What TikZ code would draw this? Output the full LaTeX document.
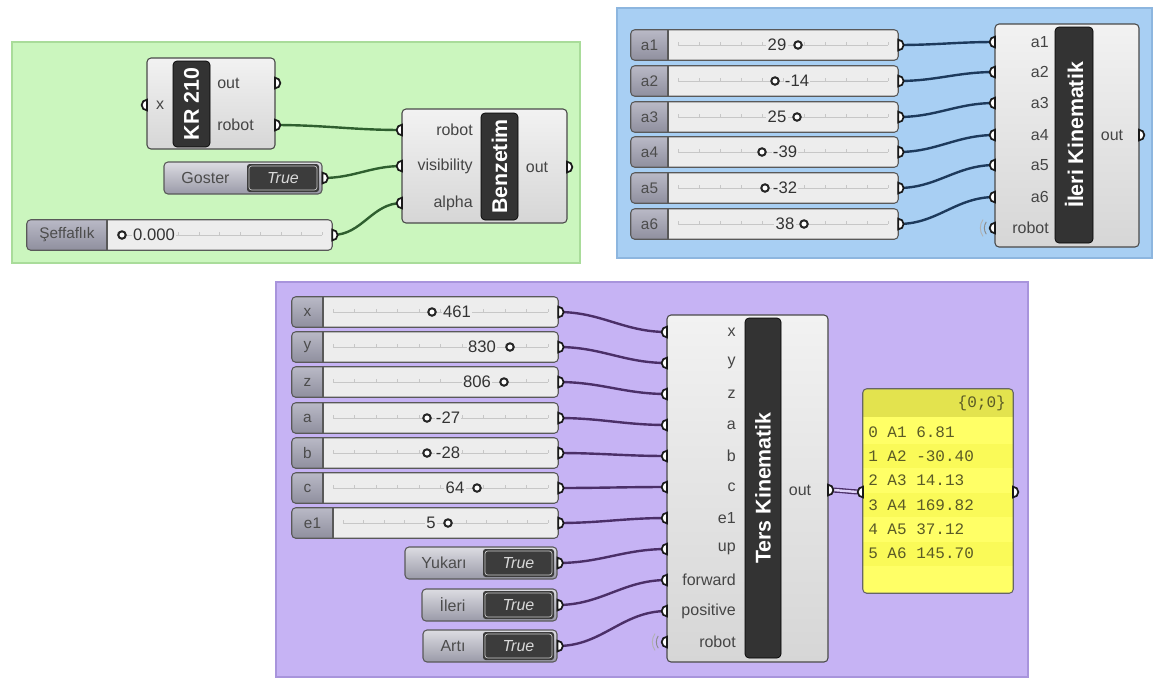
\documentclass[tikz,border=0pt]{standalone}
\usepackage{fontspec}
\setmainfont{Liberation Sans}
\setmonofont{Liberation Mono}
\usetikzlibrary{fit}
\definecolor{grpG}{HTML}{CBF6BE}
\definecolor{grpGl}{HTML}{A9DC9A}
\definecolor{grpB}{HTML}{A8CFF3}
\definecolor{grpBl}{HTML}{8DB6DF}
\definecolor{grpP}{HTML}{C6B3F4}
\definecolor{grpPl}{HTML}{A894DC}
\definecolor{compA}{HTML}{F2F2F2}
\definecolor{compB}{HTML}{D6D6D6}
\definecolor{compline}{HTML}{4A4A4A}
\definecolor{barcol}{HTML}{333333}
\definecolor{labcol}{HTML}{454545}
\definecolor{slbodyc}{HTML}{EDEDED}
\definecolor{slA}{HTML}{B9B9C6}
\definecolor{slB}{HTML}{8F8F9E}
\definecolor{tgA}{HTML}{DCDCE2}
\definecolor{tgB}{HTML}{9A9AA8}
\definecolor{tgdark}{HTML}{3C3C3C}
\definecolor{wireG}{HTML}{2F5F2F}
\definecolor{wireB}{HTML}{1D3A5C}
\definecolor{wireP}{HTML}{4B2F68}
\definecolor{panelY}{HTML}{FFFF66}
\definecolor{panelY2}{HTML}{FAFA58}
\definecolor{panelH}{HTML}{E3E34E}
\definecolor{paneltxt}{HTML}{5A5A26}
\pgfdeclarelayer{bg}
\pgfdeclarelayer{wire}
\pgfsetlayers{bg,wire,main}
\newcommand\ghOut[1]{\draw[grip] (#1) ++(0,-5.3) arc[start angle=90,end angle=-90,radius=4pt] -- cycle;}
\newcommand\ghIn[1]{\draw[grip] (#1) ++(0,-5.3) arc[start angle=90,end angle=270,radius=4pt] -- cycle;}
\newcommand\ghWireless[1]{%
  \draw[black!45, line width=0.7pt] (#1) ++(145:8pt) arc[start angle=145,end angle=215,radius=8pt];
  \draw[black!30, line width=0.7pt] (#1) ++(145:11pt) arc[start angle=145,end angle=215,radius=11pt];}
% name, xl, xr, yc, lx, label, valx, knobx, value
\newcommand\ghSlider[9]{%
  \pgfmathsetmacro\ghT{#4-15}\pgfmathsetmacro\ghB{#4+15}%
  \node[slbody, fit={(#2,\ghT)(#3,\ghB)}] (#1) {};
  \begin{scope}
    \clip[rounded corners=3pt] (#1.south west) rectangle (#1.north east);
    \fill[top color=slA, bottom color=slB] (#1.south west) rectangle (#5,\ghT);
  \end{scope}
  \draw[slline] (#5,\ghT) -- (#5,\ghB);
  \draw[slline, rounded corners=3pt] (#1.south west) rectangle (#1.north east);
  \node[sltext] at ({(#2+#5)/2},#4) {#6};
  \draw[track] ({#5+10},#4) -- ({#3-10},#4);
  \foreach \t in {0,...,10} \draw[track] ({#5+10+\t*(#3-#5-20)/10},{#4-3}) -- ++(0,3);
  \node[valtext] at (#7,#4) {#9};
  \draw[knob] (#8,#4) circle[radius=2.8pt];
  \coordinate (#1-o) at (#1.east);
  \ghOut{#1-o}
}
% name, xl, xm, xr, yc, label
\newcommand\ghToggle[6]{%
  \pgfmathsetmacro\ghT{#5-16}\pgfmathsetmacro\ghB{#5+16}%
  \node[tgbody, fit={(#2,\ghT)(#4,\ghB)}] (#1) {};
  \fill[tgdark, rounded corners=2pt] (#3,{#5-14}) rectangle ({#4-3},{#5+14});
  \draw[black!20, line width=0.5pt, rounded corners=2pt] ({#3+2},{#5-12}) rectangle ({#4-5},{#5+12});
  \node[tgtext] at ({(#2+#3)/2},#5) {#6};
  \node[truetext] at ({(#3+#4-3)/2},#5) {True};
  \coordinate (#1-o) at (#1.east);
  \ghOut{#1-o}
}
\begin{document}
\begin{tikzpicture}[x=0.75pt,y=-0.75pt,
  group/.style={inner sep=0pt, line width=0.8pt},
  comp/.style={inner sep=0pt, rounded corners=3pt, draw=compline, line width=0.8pt, top color=compA, bottom color=compB},
  bar/.style={inner sep=0pt, rounded corners=3pt, fill=barcol, draw=black, line width=0.5pt},
  bartitle/.style={text=white, font=\fontsize{16}{16}\selectfont\bfseries, inner sep=0pt},
  plabel/.style={text=labcol, font=\fontsize{12}{12}\selectfont, inner sep=0pt},
  grip/.style={draw=black!90, fill=white, line width=1.3pt},
  slbody/.style={inner sep=0pt, rounded corners=3pt, fill=slbodyc},
  slline/.style={draw=black!65, line width=0.8pt},
  sltext/.style={text=black!70, font=\fontsize{11.5}{12}\selectfont, inner sep=0pt},
  track/.style={draw=black!22, line width=0.5pt},
  valtext/.style={text=black!80, font=\fontsize{12.5}{13}\selectfont, fill=slbodyc, inner sep=1pt},
  knob/.style={draw=black!85, fill=white, line width=1.5pt},
  tgbody/.style={inner sep=0pt, rounded corners=3pt, draw=black!65, line width=0.8pt, top color=tgA, bottom color=tgB},
  tgtext/.style={text=black!70, font=\fontsize{12}{12}\selectfont, inner sep=0pt},
  truetext/.style={text=white!85!black, font=\fontsize{12}{12}\selectfont\itshape, inner sep=0pt},
  gwire/.style={draw=wireG, line width=1.8pt},
  bwire/.style={draw=wireB, line width=1.8pt},
  pwire/.style={draw=wireP, line width=1.8pt},
  ptxt/.style={text=paneltxt, font=\ttfamily\fontsize{12}{12}\selectfont, inner sep=0pt, anchor=west}
]
\useasboundingbox (0,0) rectangle (1156,679);

% ---------- groups
\begin{pgfonlayer}{bg}
\fill[white] (0,0) rectangle (1156,679);
\node[group, fill=grpG, draw=grpGl, fit={(12,42)(580,263)}] (gG) {};
\node[group, fill=grpB, draw=grpBl, fit={(617,8)(1152,258)}] (gB) {};
\node[group, fill=grpP, draw=grpPl, fit={(276,282)(1028,677)}] (gP) {};
\end{pgfonlayer}

% ---------- green group
\node[comp, fit={(147,58)(275,149)}] (kr) {};
\node[bar, fit={(173,61)(210,147)}] (krbar) {};
\node[bartitle, rotate=90] at (krbar.center) {KR 210};
\node[plabel] at (160,105) {x};
\node[plabel, anchor=west] at (217,83) {out};
\node[plabel, anchor=west] at (217,125) {robot};
\coordinate (kr-x) at (147,105);
\coordinate (kr-out) at (275,83);
\coordinate (kr-robot) at (275,125);
\ghIn{kr-x}\ghOut{kr-out}\ghOut{kr-robot}

\ghToggle{gs}{164}{247}{322}{178}{Goster}
\ghSlider{sf}{27}{332}{235}{107}{Şeffaflık}{154}{122}{0.000}

\node[comp, fit={(402,109)(567,223)}] (bz) {};
\node[bar, fit={(481,113)(518,220)}] (bzbar) {};
\node[bartitle, rotate=90] at (bzbar.center) {Benzetim};
\node[plabel, anchor=east] at (473,130) {robot};
\node[plabel, anchor=east] at (473,166) {visibility};
\node[plabel, anchor=east] at (473,203) {alpha};
\node[plabel] at (537,167) {out};
\coordinate (bz-robot) at (402,130);
\coordinate (bz-vis) at (402,166);
\coordinate (bz-alpha) at (402,203);
\coordinate (bz-out) at (567,167);
\ghIn{bz-robot}\ghIn{bz-vis}\ghIn{bz-alpha}\ghOut{bz-out}

% ---------- blue group
\ghSlider{sa1}{631}{898}{45}{668}{a1}{777}{798}{29}
\ghSlider{sa2}{631}{898}{81}{668}{a2}{797}{775}{-14}
\ghSlider{sa3}{631}{898}{117}{668}{a3}{777}{797}{25}
\ghSlider{sa4}{631}{898}{152}{668}{a4}{785}{762}{-39}
\ghSlider{sa5}{631}{898}{188}{668}{a5}{785}{765}{-32}
\ghSlider{sa6}{631}{898}{224}{668}{a6}{785}{804}{38}

\node[comp, fit={(995,24)(1139,247)}] (ik) {};
\node[bar, fit={(1055,27)(1093,243)}] (ikbar) {};
\node[bartitle, rotate=90] at (ikbar.center) {İleri Kinematik};
\foreach \n/\yy in {a1/42,a2/72,a3/103,a4/135,a5/165,a6/197,robot/228}{
  \coordinate (ik-\n) at (995,\yy);
  \node[plabel, anchor=east] at (1049,\yy) {\n};
}
\ghWireless{ik-robot}
\foreach \n in {a1,a2,a3,a4,a5,a6,robot}{\ghIn{ik-\n}}
\node[plabel] at (1112,135) {out};
\coordinate (ik-out) at (1139,135);
\ghOut{ik-out}

% ---------- purple group
\ghSlider{px}{292}{558}{312}{323}{x}{457}{432}{461}
\ghSlider{py}{292}{558}{347}{323}{y}{482}{510}{830}
\ghSlider{pz}{292}{558}{382}{323}{z}{477}{504}{806}
\ghSlider{pa}{292}{558}{418}{323}{a}{448}{427}{-27}
\ghSlider{pb}{292}{558}{453}{323}{b}{448}{427}{-28}
\ghSlider{pc}{292}{558}{488}{323}{c}{455}{477}{64}
\ghSlider{pe}{292}{558}{523}{333}{e1}{431}{448}{5}

\ghToggle{ty}{405}{483}{557}{563}{Yukarı}
\ghToggle{ti}{422}{483}{557}{605}{İleri}
\ghToggle{ta}{423}{483}{557}{646}{Artı}

\node[comp, fit={(667,315)(828,662)}] (tk) {};
\node[bar, fit={(745,318)(781,658)}] (tkbar) {};
\node[bartitle, rotate=90] at (tkbar.center) {Ters Kinematik};
\foreach \n [count=\k from 0] in {x,y,z,a,b,c,e1,up,forward,positive,robot}{
  \pgfmathsetmacro\yy{332+31*\k}
  \coordinate (tk-\n) at (667,\yy);
  \node[plabel, anchor=east] at (736,\yy) {\n};
}
\ghWireless{tk-robot}
\foreach \n in {x,y,z,a,b,c,e1,up,forward,positive,robot}{\ghIn{tk-\n}}
\node[plabel] at (800,490) {out};
\coordinate (tk-out) at (828,490);
\ghOut{tk-out}

% panel
\node[inner sep=0pt, rounded corners=3pt, fill=panelY, fit={(863,389)(1013,593)}] (pn) {};
\begin{scope}
  \clip[rounded corners=3pt] (pn.south west) rectangle (pn.north east);
  \fill[panelH] (863,389) rectangle (1013,417);
  \foreach \k in {1,3,5} \fill[panelY2] (863,{420+24.3*\k}) rectangle (1013,{444+24.3*\k});
\end{scope}
\draw[black!60, line width=0.8pt, rounded corners=3pt] (pn.south west) rectangle (pn.north east);
\node[ptxt, anchor=east] at (1006,403) {\{0;0\}};
\foreach \t [count=\k from 0] in {0 A1 6.81,1 A2 -30.40,2 A3 14.13,3 A4 169.82,4 A5 37.12,5 A6 145.70}{
  \node[ptxt] at (868,{432+24.3*\k}) {\t};
}
\coordinate (pn-i) at (863,492);
\coordinate (pn-o) at (1013,492);
\ghIn{pn-i}\ghOut{pn-o}

% ---------- wires
\begin{pgfonlayer}{wire}
\draw[gwire] (kr-robot) to[out=0,in=180] (bz-robot);
\draw[gwire] (gs-o) to[out=0,in=180] (bz-vis);
\draw[gwire] (sf-o) to[out=0,in=180] (bz-alpha);
\foreach \i in {1,...,6} \draw[bwire] (sa\i-o) to[out=0,in=180] (ik-a\i);
\draw[pwire] (px-o) to[out=0,in=180] (tk-x);
\draw[pwire] (py-o) to[out=0,in=180] (tk-y);
\draw[pwire] (pz-o) to[out=0,in=180] (tk-z);
\draw[pwire] (pa-o) to[out=0,in=180] (tk-a);
\draw[pwire] (pb-o) to[out=0,in=180] (tk-b);
\draw[pwire] (pc-o) to[out=0,in=180] (tk-c);
\draw[pwire] (pe-o) to[out=0,in=180] (tk-e1);
\draw[pwire] (ty-o) to[out=0,in=180] (tk-up);
\draw[pwire] (ti-o) to[out=0,in=180] (tk-forward);
\draw[pwire] (ta-o) to[out=0,in=180] (tk-positive);
\draw[draw=wireP, line width=1pt, double=grpP!60!white, double distance=1.8pt] (tk-out) to[out=0,in=180] (pn-i);
\end{pgfonlayer}
\end{tikzpicture}
\end{document}
